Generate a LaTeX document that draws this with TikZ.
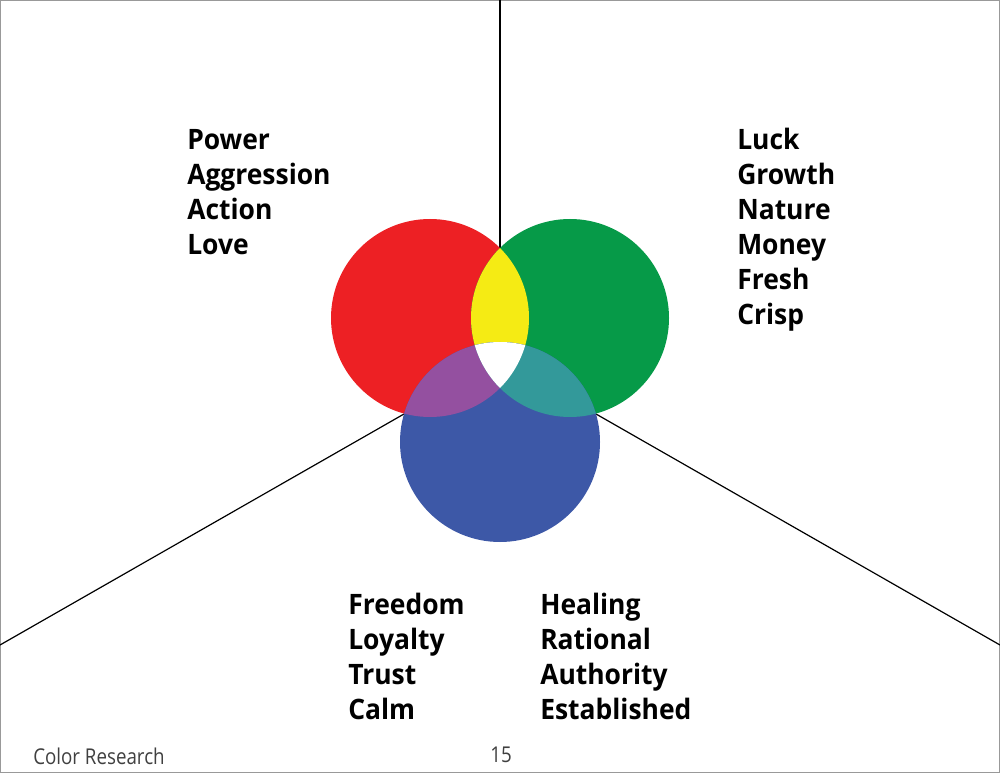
\documentclass[tikz,border=0pt]{standalone}
\usepackage{fontspec}
\setmainfont{Open Sans}
\newfontfamily\wordfont{Open Sans}[FakeStretch=0.94]
\newfontfamily\footfont{Open Sans}[FakeStretch=0.86]
\usepackage{tikz}
\usetikzlibrary{positioning,calc}

\definecolor{cred}{HTML}{ED2024}
\definecolor{cgreen}{HTML}{069A48}
\definecolor{cblue}{HTML}{3D58A7}
\definecolor{cyellow}{HTML}{F5EB14}
\definecolor{cpurple}{HTML}{9450A0}
\definecolor{cteal}{HTML}{33999A}

\tikzstyle{word} = [anchor=base west, inner sep=0pt, font=\wordfont\fontsize{20}{24}\selectfont\bfseries]
\tikzstyle{foot} = [anchor=base west, inner sep=0pt, text=black!75, font=\footfont\fontsize{15.5}{19}\selectfont]
\tikzstyle{divider} = [line width=0.85pt, black]

\begin{document}
\begin{tikzpicture}[x=0.025cm,y=-0.025cm]

\useasboundingbox (0,0) rectangle (1000,773);
\draw[black!40, line width=0.6pt] (0.5,0.5) rectangle (999.5,772.5);

\coordinate (top) at (500,0);
\coordinate (lft) at (0,645);
\coordinate (rgt) at (1000,645);
\coordinate (rg) at (500,248);
\coordinate (rb) at (404,414);
\coordinate (gb) at (596,414);

\draw [divider] (top) -- (rg);
\draw [divider] (lft) -- (rb);
\draw [divider] (rgt) -- (gb);

% the three circles
\fill[cred] (430,318) circle (99);
\fill[cgreen] (570,318) circle (99);
\fill[cblue] (500,442) circle (100);

% overlaps
\begin{scope}
\clip (430,318) circle (99);
\fill[cyellow] (570,318) circle (99);
\fill[cpurple] (500,442) circle (100);
\end{scope}
\begin{scope}
\clip (570,318) circle (99);
\fill[cteal] (500,442) circle (100);
\clip (430,318) circle (99);
\fill[white] (500,442) circle (100);
\end{scope}

\foreach \w [count=\i] in {Power,Aggression,Action,Love}
  \node (red\i) [word] at (187,{115+35*\i}) {\w};
\foreach \w [count=\i] in {Luck,Growth,Nature,Money,Fresh,Crisp}
  \node (green\i) [word] at (737,{115+35*\i}) {\w};
\foreach \w [count=\i] in {Freedom,Loyalty,Trust,Calm}
  \node (blue\i) [word] at (348,{579+35*\i}) {\w};
\foreach \w [count=\i] in {Healing,Rational,Authority,Established}
  \node (teal\i) [word] at (540,{579+35*\i}) {\w};

\node (title) [foot] at (33,764) {Color Research};
\node (page) [foot] at (490,762) {15};

\end{tikzpicture}
\end{document}
